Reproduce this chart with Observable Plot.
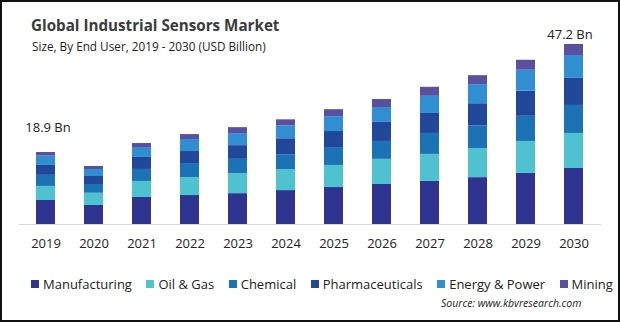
<!DOCTYPE html>
<html>
<head>
<meta charset="utf-8">
<script src="https://cdn.jsdelivr.net/npm/d3@7"></script>
<script src="https://cdn.jsdelivr.net/npm/@observablehq/plot@0.6"></script>
<style>
  html, body { margin: 0; padding: 0; background: #fff; }
  #wrap { position: relative; width: 620px; height: 322px; overflow: hidden; font-family: "Open Sans", sans-serif; }
  #frame { position: absolute; left: 0; top: 0; width: 620px; height: 322px; box-sizing: border-box; border: 2px solid #111; pointer-events: none; }
  #chart { position: absolute; left: 0; top: 0; }
  #title { position: absolute; left: 31px; top: 15px; font-size: 15.2px; font-weight: 700; color: #3b3b3b; white-space: nowrap; }
  #subtitle { position: absolute; left: 32px; top: 38px; font-size: 11.75px; color: #222; white-space: nowrap; }
  #legend { position: absolute; left: 31px; top: 275px; display: flex; gap: 14.5px; font-size: 13px; color: #222; white-space: nowrap; }
  #legend .item { display: flex; align-items: center; gap: 4px; }
  #legend .sw { width: 8px; height: 8px; display: inline-block; }
  #source { position: absolute; left: 441px; top: 296px; font-size: 10.5px; font-style: italic; color: #222; white-space: nowrap; }
</style>
</head>
<body>
<div id="wrap">
  <div id="chart"></div>
  <div id="title"></div>
  <div id="subtitle"></div>
  <div id="legend"></div>
  <div id="source"></div>
  <div id="frame"></div>
</div>
<script>
const titleText = "Global Industrial Sensors Market";
const subtitleText = "Size, By End User, 2019 - 2030 (USD Billion)";
const sourceText = "Source: www.kbvresearch.com";

const years = ["2019","2020","2021","2022","2023","2024","2025","2026","2027","2028","2029","2030"];
const seriesNames = ["Manufacturing","Oil & Gas","Chemical","Pharmaceuticals","Energy & Power","Mining"];
const seriesColors = ["#2e3590","#4ec3cf","#1c72b7","#21479a","#2f8fd2","#5a4fa0"];

const manufacturing = [6.3, 5.0, 7.1, 7.6, 8.1, 8.9, 9.7, 10.5, 11.3, 12.3, 13.4, 14.7];
const oilGas        = [3.7, 3.2, 4.2, 4.7, 5.25, 5.5, 5.8, 6.6, 7.1, 7.6, 8.4, 9.2];
const chemical      = [2.9, 2.3, 3.15, 3.7, 3.75, 3.9, 4.7, 4.7, 5.5, 6.0, 6.6, 7.35];
const pharma        = [2.6, 2.1, 3.15, 3.15, 3.6, 4.2, 4.2, 5.0, 5.25, 5.8, 6.6, 7.1];
const energy        = [2.45, 1.84, 2.6, 3.15, 3.15, 3.4, 3.9, 3.9, 4.5, 5.0, 5.5, 6.0];
const mining        = [0.95, 0.79, 1.05, 1.3, 1.57, 1.57, 1.84, 2.1, 2.36, 2.36, 2.6, 2.9];

const labelYears = ["2019", "2030"];
const labelTotals = [18.9, 47.2];
const labelTexts = ["18.9 Bn", "47.2 Bn"];

const seriesValues = [manufacturing, oilGas, chemical, pharma, energy, mining];
const rows = [];
seriesNames.forEach((s, si) => {
  years.forEach((y, yi) => rows.push({year: y, series: s, value: seriesValues[si][yi]}));
});
const labels = labelYears.map((y, i) => ({year: y, total: labelTotals[i], text: labelTexts[i]}));

document.getElementById("title").textContent = titleText;
document.getElementById("subtitle").textContent = subtitleText;
document.getElementById("source").textContent = sourceText;
const legend = document.getElementById("legend");
seriesNames.forEach((s, i) => {
  const it = document.createElement("div"); it.className = "item";
  const sw = document.createElement("span"); sw.className = "sw"; sw.style.background = seriesColors[i];
  const tx = document.createElement("span"); tx.textContent = s;
  it.appendChild(sw); it.appendChild(tx); legend.appendChild(it);
});

const chart = Plot.plot({
  width: 620,
  height: 262,
  marginLeft: 19,
  marginRight: 19,
  marginTop: 33.5,
  marginBottom: 38,
  style: {fontFamily: "Open Sans, sans-serif", fontSize: "13px", color: "#222", background: "transparent"},
  x: {domain: years, paddingInner: 0.6, paddingOuter: 0.3, label: null},
  y: {domain: [0, 50], axis: null},
  color: {domain: seriesNames, range: seriesColors},
  marks: [
    Plot.barY(rows, {x: "year", y: "value", fill: "series", order: seriesNames}),
    Plot.ruleY([0], {stroke: "#d6d6d6", strokeWidth: 1}),
    Plot.axisX({tickSize: 0, tickPadding: 14, fontSize: 13, label: null}),
    Plot.text(labels.filter(d => d.year === "2019"), {x: "year", y: "total", text: "text", dy: -25, dx: 2, fontSize: 13, fill: "#222"}),
    Plot.text(labels.filter(d => d.year === "2030"), {x: "year", y: "total", text: "text", dy: -10, dx: -4, fontSize: 13, fill: "#222"})
  ]
});
document.getElementById("chart").appendChild(chart);
</script>
</body>
</html>
